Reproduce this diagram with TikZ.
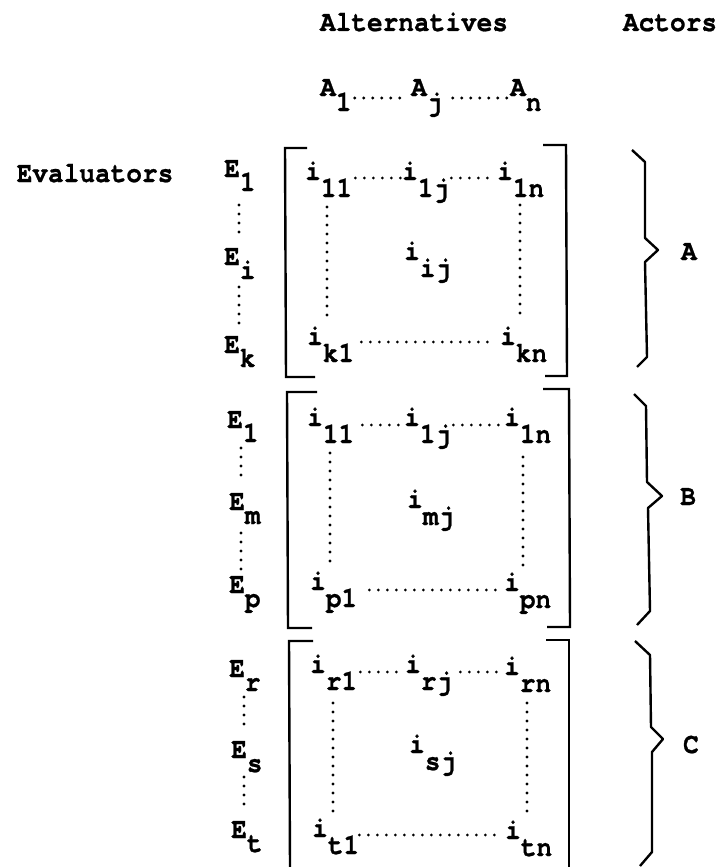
\documentclass[tikz,border=0pt]{standalone}
\usepackage{fontspec}
\setmainfont{texgyrecursor}[Extension=.otf, UprightFont=*-regular, BoldFont=*-bold, BoldFeatures={FakeStretch=0.9, FakeBold=0.8}]
\usetikzlibrary{calc}
\newcommand{\sbI}[2]{#1\raisebox{-17pt}{#2}}
\newcommand{\sbE}[2]{#1\raisebox{-14pt}{#2}}
\newcommand{\sbA}[2]{#1\raisebox{-15pt}{#2}}
\begin{document}
\begin{tikzpicture}[x=1pt,y=-1pt,
  txt/.style={font=\fontsize{29}{32}\selectfont\bfseries, inner sep=0pt, anchor=base west},
  lbl/.style={font=\fontsize{29}{32}\selectfont\bfseries, inner sep=0pt, anchor=base},
  dots/.style={line width=3.1pt, line cap=round, dash pattern=on 0pt off 9pt},
  brk/.style={line width=2.4pt},
  brc/.style={line width=2.4pt, line join=round}]
\useasboundingbox (0,0) rectangle (726,867);

% headers
\node[lbl] (alt) at (414,31) {Alternatives};
\node[lbl] (act) at (670,31) {Actors};
\node[lbl] (eva) at (95,182) {Evaluators};

\node[txt] (A1) at (320,96) {\sbA{A}{1}};
\node[txt] (Aj) at (411,96) {\sbA{A}{j}};
\node[txt] (An) at (510,96) {\sbA{A}{n}};
\draw[dots] ($(A1.base east)+(3,2)$) -- ($(Aj.base west)+(-3,2)$);
\draw[dots] ($(Aj.base east)+(10,2)$) -- ($(An.base west)+(-3,2)$);

% ---------- block A ----------
\node[txt] (aE1) at (224,177) {\sbE{E}{1}};
\node[txt] (aEi) at (224,265) {\sbE{E}{i}};
\node[txt] (aEk) at (224,353) {\sbE{E}{k}};
\draw[dots] ($(aE1.base west)+(15,28)$) -- ($(aEi.base west)+(15,-28)$);
\draw[dots] ($(aEi.base west)+(15,22)$) -- ($(aEk.base west)+(15,-30)$);

\node[txt] (a11) at (305,180) {\sbI{i}{11}};
\node[txt] (a1j) at (402,180) {\sbI{i}{1j}};
\node[txt] (a1n) at (497,180) {\sbI{i}{1n}};
\node[txt] (aij) at (404,260) {\sbI{i}{ij}};
\node[txt] (ak1) at (307,345) {\sbI{i}{k1}};
\node[txt] (akn) at (500,345) {\sbI{i}{kn}};
\draw[dots] ($(a11.base east)+(3,-2)$) -- ($(a1j.base west)+(-1,-2)$);
\draw[dots] ($(a1j.base east)+(2,-2)$) -- ($(a1n.base west)+(-1,-2)$);
\draw[dots] ($(ak1.base east)+(7,-3)$) -- ($(akn.base west)+(-4,-3)$);
\draw[dots] ($(a11.base west)+(22,27)$) -- ($(ak1.base west)+(20,-27)$);
\draw[dots] ($(a1n.base west)+(23,25)$) -- ($(akn.base west)+(20,-25)$);

\draw[brk] (307,148) -- (285,148) -- (286,377) -- (315,377);
\draw[brk] (543,145) -- (566,145) -- (567,376) -- (545,376);
\draw[brc] (632,150) -- (645,162) -- (645,238) -- (658,250) -- (645,262) -- (647,357) -- (637,367);
\node[lbl] (lA) at (689,260) {A};

% ---------- block B ----------
\node[txt] (bE1) at (227,428) {\sbE{E}{1}};
\node[txt] (bEm) at (229,510) {\sbE{E}{m}};
\node[txt] (bEp) at (229,593) {\sbE{E}{p}};
\draw[dots] ($(bE1.base west)+(14,20)$) -- ($(bEm.base west)+(12,-28)$);
\draw[dots] ($(bEm.base west)+(12,23)$) -- ($(bEp.base west)+(12,-23)$);

\node[txt] (b11) at (307,426) {\sbI{i}{11}};
\node[txt] (b1j) at (404,426) {\sbI{i}{1j}};
\node[txt] (b1n) at (504,426) {\sbI{i}{1n}};
\node[txt] (bmj) at (407,508) {\sbI{i}{mj}};
\node[txt] (bp1) at (310,590) {\sbI{i}{p1}};
\node[txt] (bpn) at (504,591) {\sbI{i}{pn}};
\draw[dots] ($(b11.base east)+(8,-1)$) -- ($(b1j.base west)+(-1,-1)$);
\draw[dots] ($(b1j.base east)+(2,-1)$) -- ($(b1n.base west)+(-1,-1)$);
\draw[dots] ($(bp1.base east)+(12,0)$) -- ($(bpn.base west)+(-7,-1)$);
\draw[dots] ($(b11.base west)+(23,27)$) -- ($(bp1.base west)+(20,-23)$);
\draw[dots] ($(b1n.base west)+(19,31)$) -- ($(bpn.base west)+(19,-23)$);

\draw[brk] (317,392) -- (287,392) -- (288,628) -- (312,628);
\draw[brk] (543,389) -- (569,389) -- (570,627) -- (547,627);
\draw[brc] (634,394) -- (646,406) -- (647,482) -- (662,496) -- (648,508) -- (650,611) -- (637,625);
\node[lbl] (lB) at (688,505) {B};

% ---------- block C ----------
\node[txt] (cEr) at (229,677) {\sbE{E}{r}};
\node[txt] (cEs) at (231,758) {\sbE{E}{s}};
\node[txt] (cEt) at (231,838) {\sbE{E}{t}};
\draw[dots] ($(cEr.base west)+(15,20)$) -- ($(cEs.base west)+(13,-28)$);
\draw[dots] ($(cEs.base west)+(13,19)$) -- ($(cEt.base west)+(13,-26)$);

\node[txt] (cr1) at (310,673) {\sbI{i}{r1}};
\node[txt] (crj) at (405,673) {\sbI{i}{rj}};
\node[txt] (crn) at (504,675) {\sbI{i}{rn}};
\node[txt] (csj) at (409,753) {\sbI{i}{sj}};
\node[txt] (ct1) at (312,837) {\sbI{i}{t1}};
\node[txt] (ctn) at (505,839) {\sbI{i}{tn}};
\draw[dots] ($(cr1.base east)+(3,-1)$) -- ($(crj.base west)+(-2,-1)$);
\draw[dots] ($(crj.base east)+(8,-1)$) -- ($(crn.base west)+(-4,-3)$);
\draw[dots] ($(ct1.base east)+(0,-2)$) -- ($(ctn.base west)+(-8,-4)$);
\draw[dots] ($(cr1.base west)+(23,30)$) -- ($(ct1.base west)+(21,-22)$);
\draw[dots] ($(crn.base west)+(23,28)$) -- ($(ctn.base west)+(22,-26)$);

\draw[brk] (313,641) -- (289,641) -- (290,867);
\draw[brk] (546,640) -- (569,640) -- (569,867);
\draw[brc] (635,641) -- (650,655) -- (651,727) -- (663,739) -- (652,752) -- (652,852) -- (640,866);
\node[lbl] (lC) at (691,753) {C};
\end{tikzpicture}
\end{document}
